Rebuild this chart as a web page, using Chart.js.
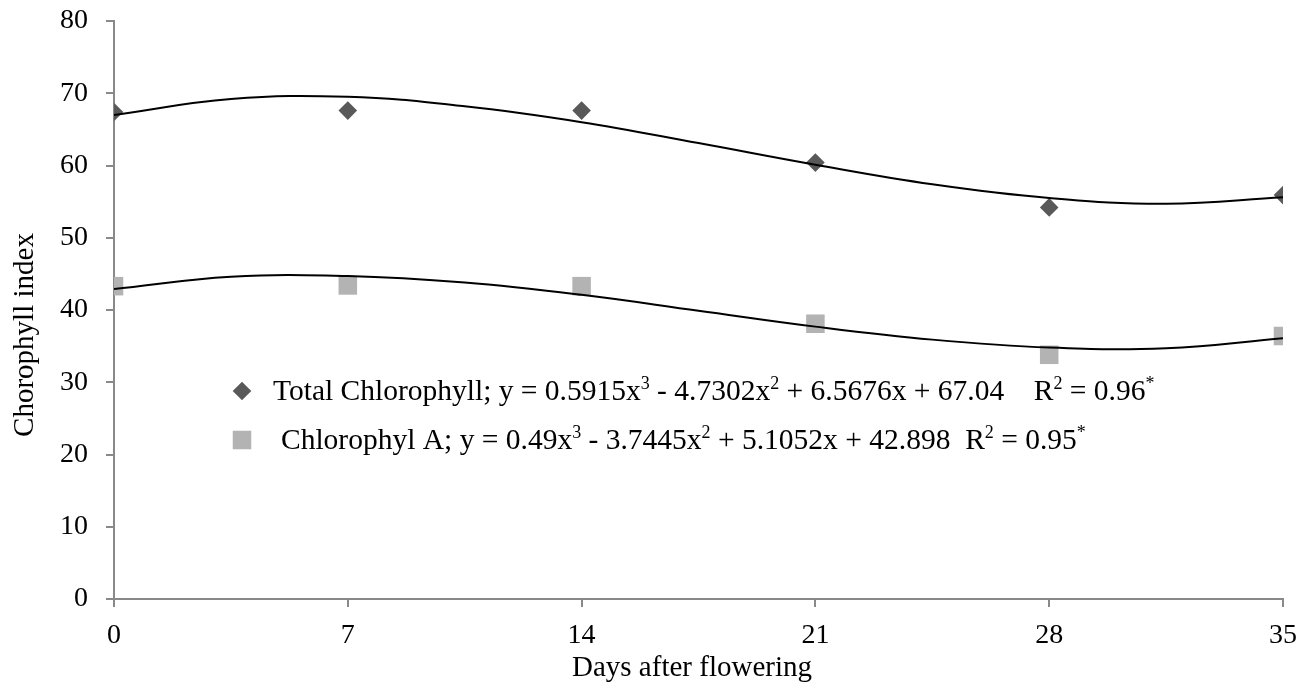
<!DOCTYPE html>
<html lang="en">
<head>
  <meta charset="UTF-8">
  <title>Chlorophyll index</title>
  <style>
    html, body { margin: 0; padding: 0; background: #fff; }
    #wrap { width: 1311px; height: 683px; }
  </style>
</head>
<body>
  <div id="wrap">
    <canvas id="graphic"></canvas>
  </div>

  <script src="https://cdn.jsdelivr.net/npm/chart.js"></script>

  <script>
    // measured points
    const days = [0, 7, 14, 21, 28, 35];
    const totalChl = [67.4, 67.6, 67.6, 60.4, 54.2, 55.9];
    const chlA = [43.3, 43.4, 43.3, 38.1, 33.8, 36.4];

    // fitted cubic trend lines, sampled every half week
    const trendDays = [0, 3.5, 7, 10.5, 14, 17.5, 21, 24.5, 28, 31.5, 35];
    const totalTrend = [67.0, 69.2, 69.5, 68.2, 66.0, 63.1, 60.1, 57.4, 55.5, 54.7, 55.6];
    const chlATrend = [42.9, 44.6, 44.7, 43.8, 42.1, 39.9, 37.7, 35.9, 34.8, 34.7, 36.1];

    const xTicks = [0, 7, 14, 21, 28, 35];
    const yTicks = [0, 10, 20, 30, 40, 50, 60, 70, 80];

    // legend text; [text, superscript]
    const totalLabel = [
      ['Total Chlorophyll; y = 0.5915x', false], ['3', true],
      [' - 4.7302x', false], ['2', true],
      [' + 6.5676x + 67.04    R', false], ['2', true],
      [' = 0.96', false], ['*', true]
    ];
    const chlALabel = [
      ['Chlorophyl A; y = 0.49x', false], ['3', true],
      [' - 3.7445x', false], ['2', true],
      [' + 5.1052x + 42.898  R', false], ['2', true],
      [' = 0.95', false], ['*', true]
    ];

    const xTitle = 'Days after flowering';
    const yTitle = 'Chorophyll index';

    const FONT = '"Liberation Serif", "Times New Roman", serif';
    const DARK = '#595959';
    const LIGHT = '#b3b3b3';
    const AXIS = '#898989';

    const toXY = (xs, ys) => xs.map((x, i) => ({ x: x, y: ys[i] }));

    function drawMarker(ctx, kind, x, y) {
      ctx.save();
      if (kind === 'diamond') {
        const r = 9.3;
        ctx.fillStyle = DARK;
        ctx.beginPath();
        ctx.moveTo(x, y - r);
        ctx.lineTo(x + r, y);
        ctx.lineTo(x, y + r);
        ctx.lineTo(x - r, y);
        ctx.closePath();
        ctx.fill();
      } else {
        const s = 18.5;
        ctx.fillStyle = LIGHT;
        ctx.fillRect(x - s / 2, y - s / 2, s, s);
      }
      ctx.restore();
    }

    function drawRich(ctx, parts, x, y, size) {
      ctx.textAlign = 'left';
      ctx.textBaseline = 'alphabetic';
      ctx.fillStyle = '#000';
      parts.forEach(([txt, sup]) => {
        const fs = sup ? Math.round(size * 0.62) : size;
        ctx.font = fs + 'px ' + FONT;
        ctx.fillText(txt, x, sup ? y - size * 0.36 : y);
        x += ctx.measureText(txt).width;
      });
    }

    // legend inside the plot plus both axis titles
    const annotations = {
      id: 'annotations',
      afterDraw(chart) {
        const ctx = chart.ctx;
        const area = chart.chartArea;
        ctx.save();

        drawMarker(ctx, 'diamond', area.left + 128, 391);
        drawRich(ctx, totalLabel, area.left + 159, 400, 29.5);
        drawMarker(ctx, 'square', area.left + 128, 440);
        drawRich(ctx, chlALabel, area.left + 167, 449, 29.5);

        ctx.font = '29px ' + FONT;
        ctx.fillStyle = '#000';
        ctx.textAlign = 'center';
        ctx.textBaseline = 'alphabetic';
        ctx.fillText(xTitle, 692, 676);

        ctx.translate(33, 335);
        ctx.rotate(-Math.PI / 2);
        ctx.fillText(yTitle, 0, 0);
        ctx.restore();
      }
    };

    const lienzo = document.getElementById('graphic');

    new Chart(lienzo, {
      data: {
        datasets: [
          {
            type: 'line',
            data: toXY(trendDays, totalTrend),
            borderColor: '#000',
            borderWidth: 2,
            pointRadius: 0,
            tension: 0.4,
            fill: false,
            order: 0
          },
          {
            type: 'line',
            data: toXY(trendDays, chlATrend),
            borderColor: '#000',
            borderWidth: 2,
            pointRadius: 0,
            tension: 0.4,
            fill: false,
            order: 0
          },
          {
            type: 'scatter',
            label: 'Total Chlorophyll',
            data: toXY(days, totalChl),
            pointStyle: 'rectRot',
            pointRadius: 9.3,
            backgroundColor: DARK,
            borderColor: DARK,
            borderWidth: 0,
            order: 1
          },
          {
            type: 'scatter',
            label: 'Chlorophyl A',
            data: toXY(days, chlA),
            pointStyle: 'rect',
            pointRadius: 13.1,
            backgroundColor: LIGHT,
            borderColor: LIGHT,
            borderWidth: 0,
            order: 1
          }
        ]
      },
      options: {
        responsive: true,
        maintainAspectRatio: false,
        animation: false,
        layout: { padding: { top: 21, right: 28, bottom: 0, left: 0 } },
        plugins: {
          legend: { display: false },
          tooltip: { enabled: false }
        },
        scales: {
          x: {
            type: 'linear',
            min: 0,
            max: 35,
            afterBuildTicks: (scale) => { scale.ticks = xTicks.map(v => ({ value: v })); },
            afterFit: (scale) => {
              scale.height = 84;
              scale.paddingLeft = 0;
              scale.paddingRight = 0;
            },
            grid: { drawOnChartArea: false, tickLength: 8, color: AXIS, lineWidth: 2 },
            border: { color: AXIS, width: 2 },
            ticks: { color: '#000', padding: 12, font: { family: FONT, size: 28 } }
          },
          y: {
            type: 'linear',
            min: 0,
            max: 80,
            afterBuildTicks: (scale) => { scale.ticks = yTicks.map(v => ({ value: v })); },
            afterFit: (scale) => {
              scale.width = 114;
              scale.paddingTop = 0;
              scale.paddingBottom = 0;
            },
            grid: { drawOnChartArea: false, tickLength: 8, color: AXIS, lineWidth: 2 },
            border: { color: AXIS, width: 2 },
            ticks: { color: '#000', padding: 18, font: { family: FONT, size: 28 } }
          }
        }
      },
      plugins: [annotations]
    });
  </script>
</body>
</html>
